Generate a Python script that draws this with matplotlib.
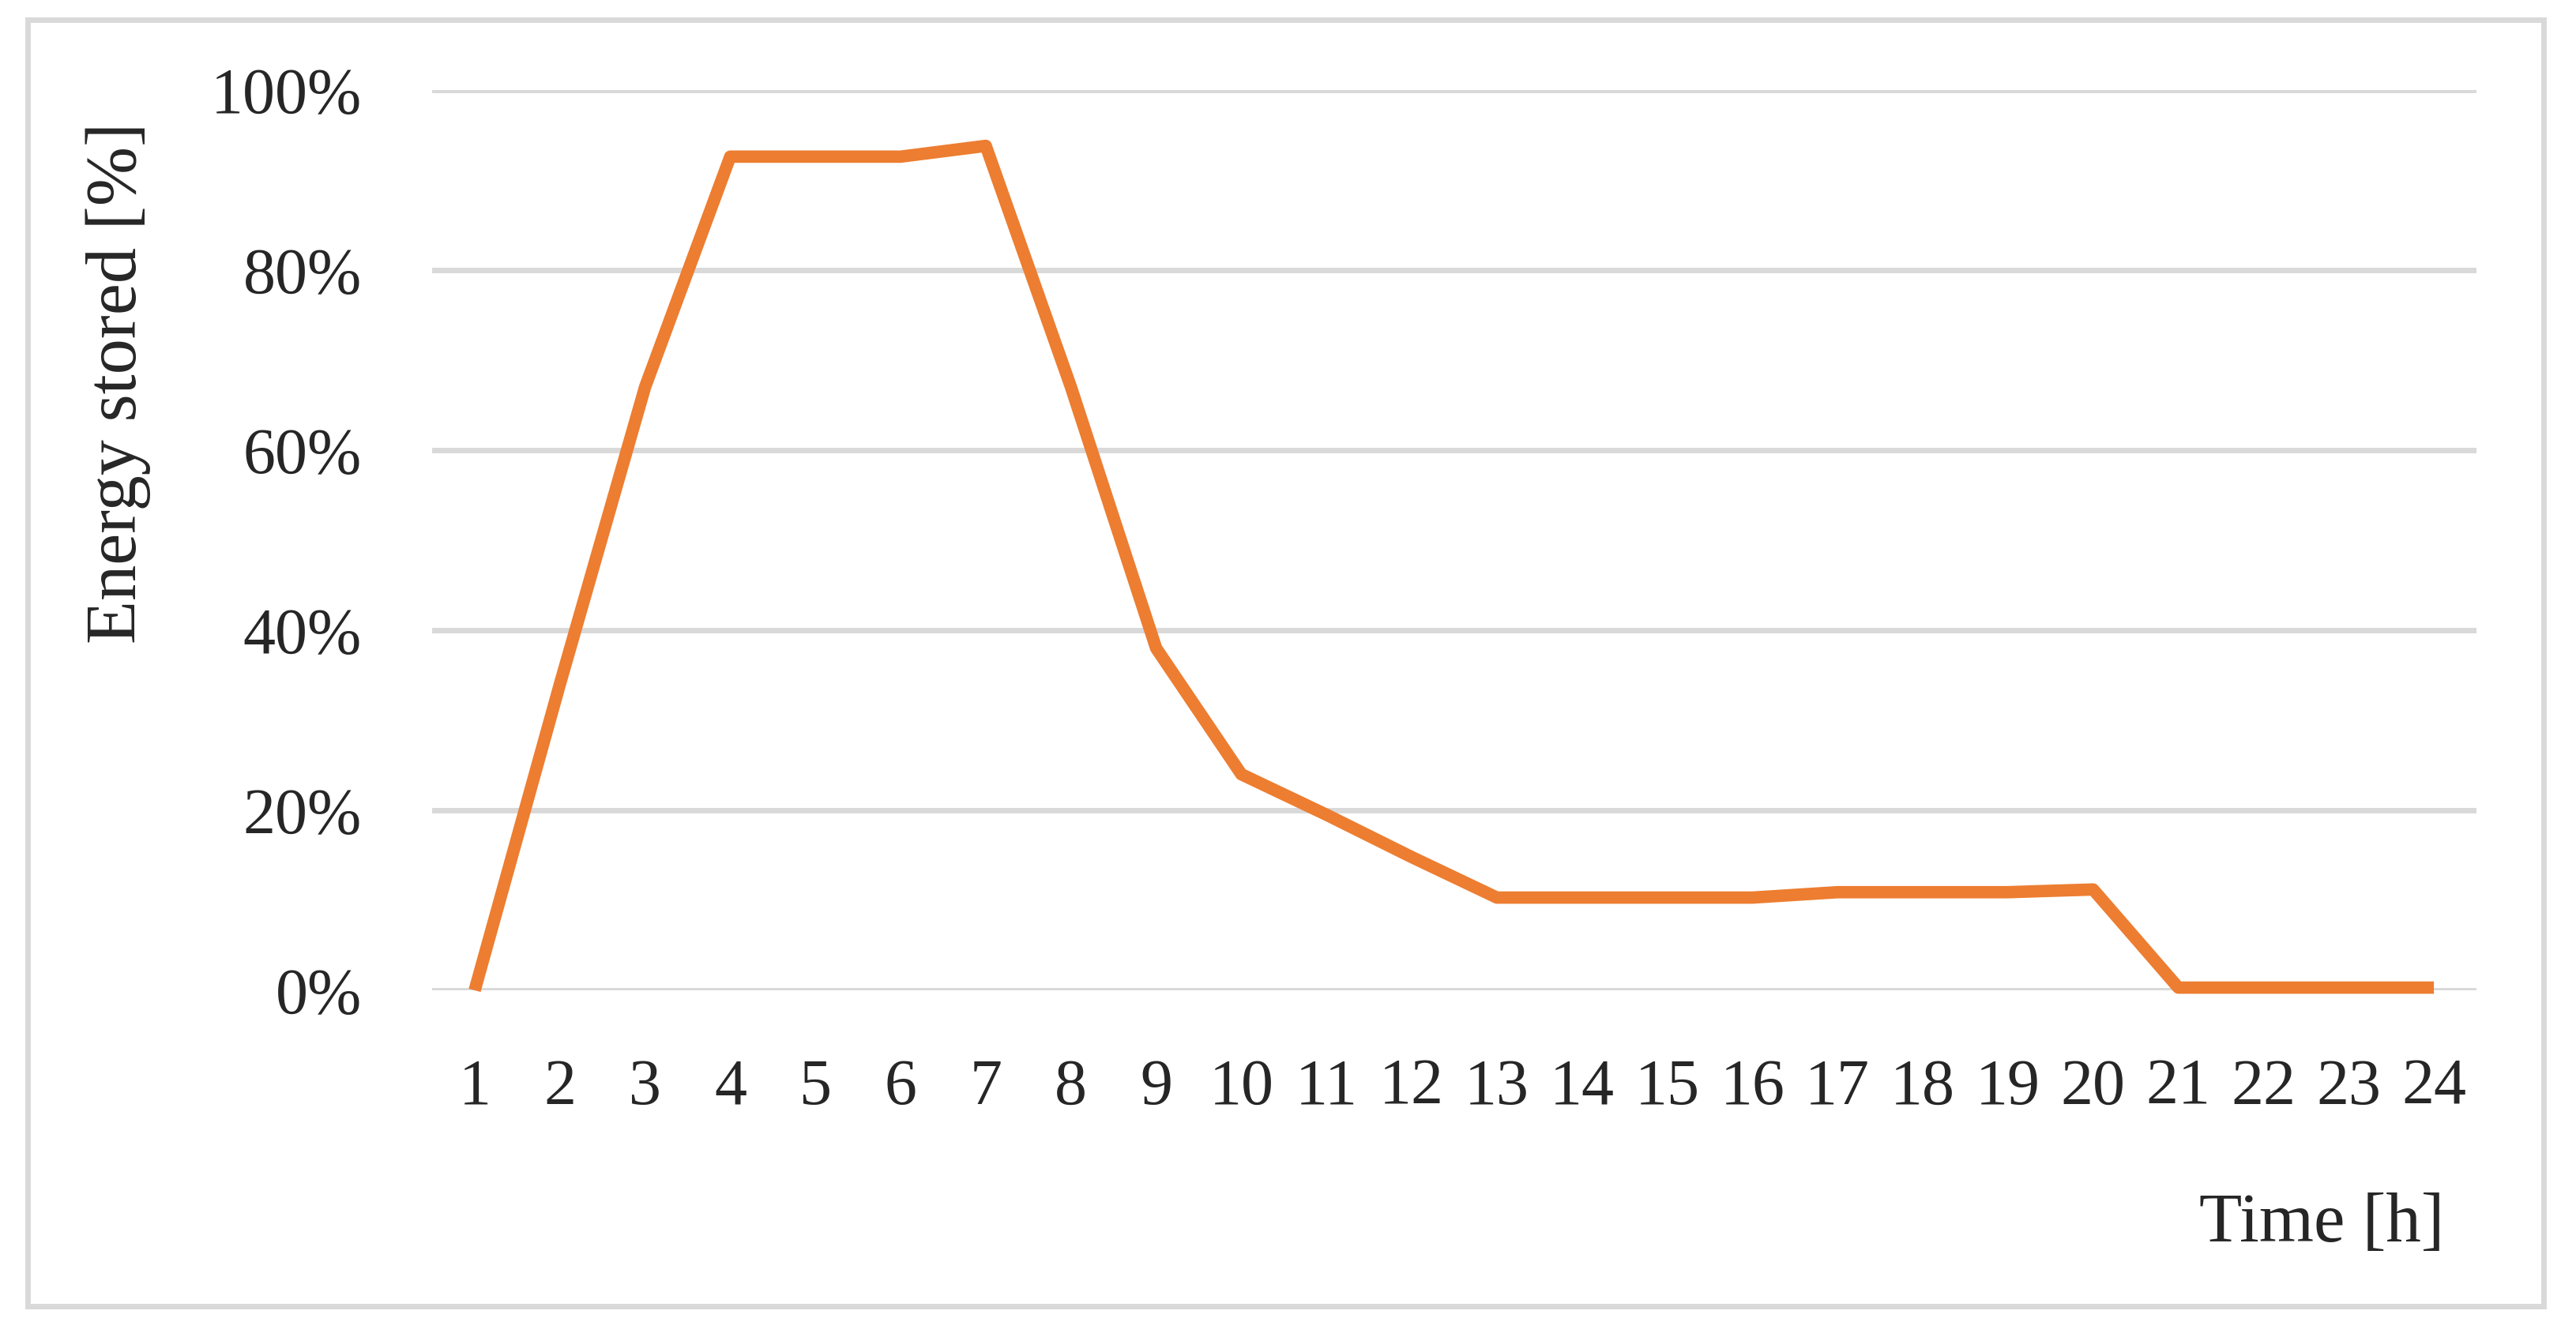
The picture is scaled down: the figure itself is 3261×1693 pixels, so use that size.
import numpy as np
import matplotlib.pyplot as plt
from matplotlib.patches import Rectangle

hours = np.arange(1, 25)
stored = [0, 34, 67, 92.6, 92.6, 92.6, 93.8, 67, 38, 24, 19.5, 14.8,
          10.3, 10.3, 10.3, 10.3, 10.9, 10.9, 10.9, 11.2, 0.3, 0.3, 0.3, 0.3]
yticks = [0, 20, 40, 60, 80, 100]

plt.rcParams['font.family'] = ['Liberation Serif', 'DejaVu Serif']

fig = plt.figure(figsize=(32.62, 16.93), dpi=100)
ax = fig.add_axes([547/3262, 1 - 1254/1693, (3135 - 547)/3262, (1254 - 114)/1693])

ax.plot(hours, stored, color='#ED7D31', linewidth=11.3, solid_joinstyle='round',
        solid_capstyle='butt', clip_on=False, zorder=3)

ax.set_xlim(0.5, 24.5)
ax.set_ylim(0, 100)
ax.set_xticks(hours)
ax.set_xticklabels([str(h) for h in hours])
ax.set_yticks(yticks)
ax.set_yticklabels([f'{v}%' for v in yticks])
ax.yaxis.grid(True, color='#d9d9d9', linewidth=5)
ax.set_axisbelow(True)
for s in ax.spines.values():
    s.set_visible(False)
ax.tick_params(axis='both', length=0, labelsize=59, colors='#262626')
ax.tick_params(axis='x', pad=62)
ax.tick_params(axis='y', pad=64)

fig.text(150/3262, 1 - 485/1693, 'Energy stored [%]', rotation=90, ha='center', va='center',
         fontsize=65, color='#262626')
fig.text(3094/3262, 1 - 1550/1693, 'Time [h]', ha='right', va='center',
         fontsize=64, color='#262626')

# cadre gris autour du graphique
fig.patches.append(Rectangle((35/3262, 1 - 1654/1693), (3220 - 35)/3262, (1654 - 25)/1693,
                             transform=fig.transFigure, fill=False, edgecolor='#d9d9d9',
                             linewidth=5))

fig.savefig('out.png', dpi=100)
